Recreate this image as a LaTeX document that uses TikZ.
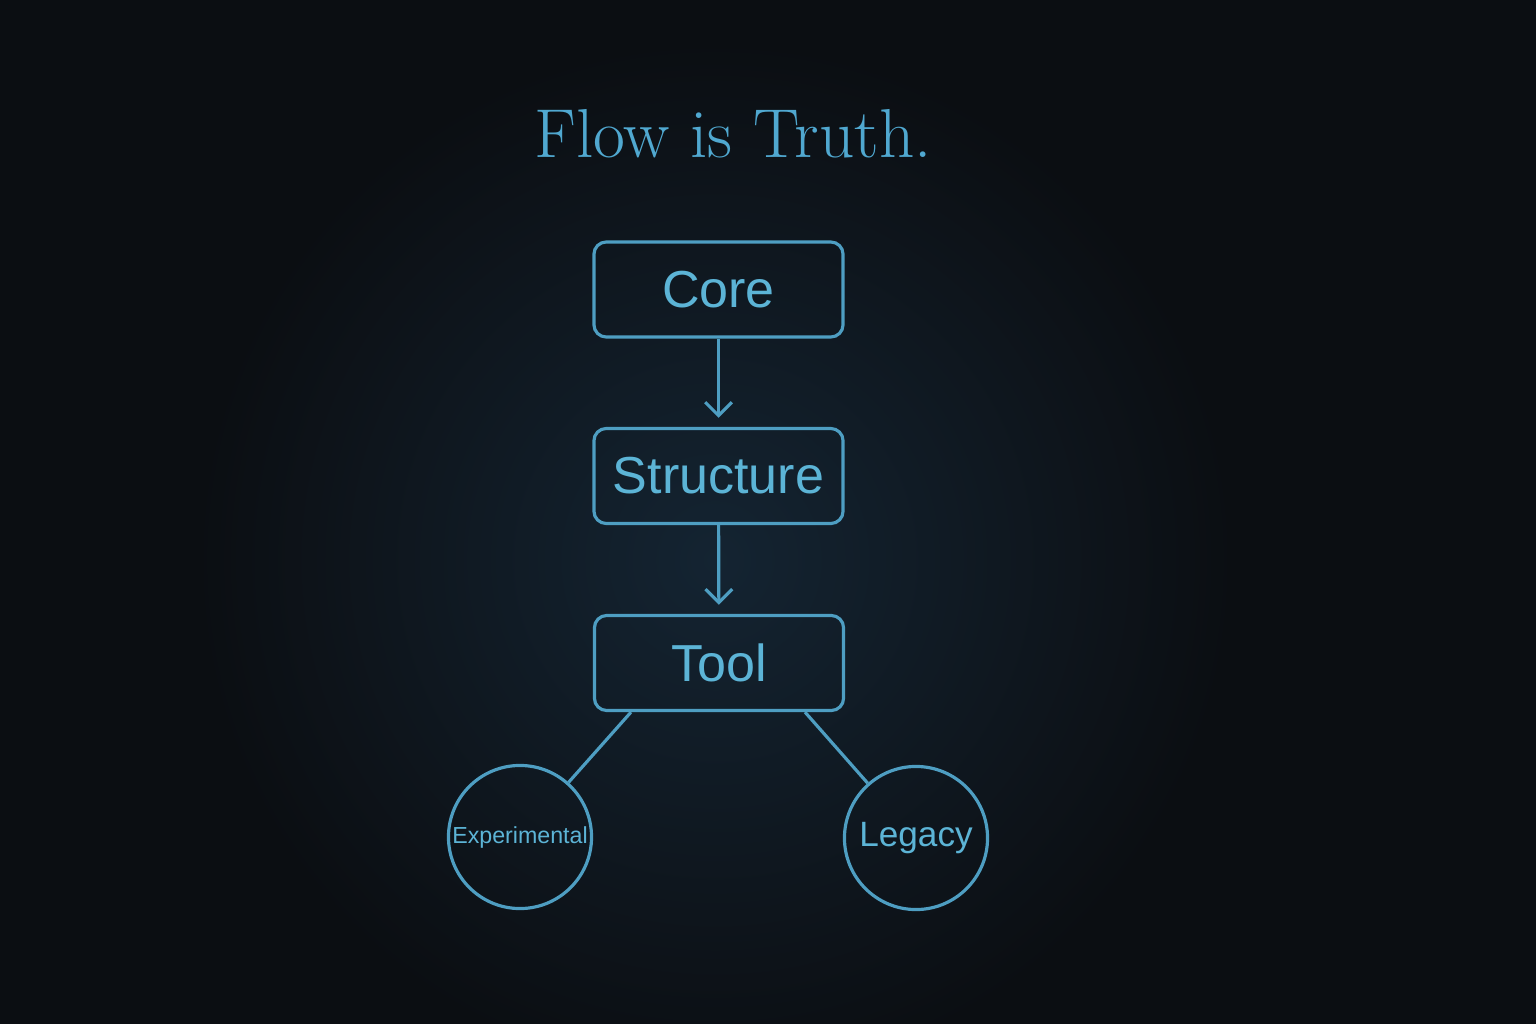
\documentclass[tikz,border=0pt]{standalone}
\usepackage{fontspec}
\setsansfont{Liberation Sans}
\usetikzlibrary{arrows.meta,calc}
\definecolor{bgcol}{RGB}{11,14,18}
\definecolor{glowcol}{RGB}{20,36,50}
\definecolor{linecol}{RGB}{78,158,194}
\definecolor{textcol}{RGB}{92,180,214}
\definecolor{titlecol}{RGB}{80,168,208}
\tikzset{
  boxnode/.style={draw=linecol, line width=0.9pt, rounded corners=3.5pt,
    minimum width=2.49cm, minimum height=0.95cm, inner sep=0pt,
    text=textcol, font=\sffamily\fontsize{14.8}{16}\selectfont},
  circnode/.style={draw=linecol, line width=0.9pt, circle, minimum size=1.43cm,
    inner sep=0pt, text=textcol},
  flowarrow/.style={draw=linecol, line width=0.9pt,
    -{Straight Barb[length=3.8pt,width=7.6pt,line width=0.9pt]}, shorten >=2.6pt},
  branch/.style={draw=linecol, line width=0.9pt}
}
\begin{document}
\begin{tikzpicture}[x=0.01cm,y=-0.01cm]
\useasboundingbox (0,0) rectangle (1536,1024);
\clip (0,0) rectangle (1536,1024);
\fill[bgcol] (0,0) rectangle (1536,1024);
\shade[inner color=glowcol, outer color=bgcol] (715,560) circle (520);
\node[anchor=base, text=titlecol, font=\fontsize{19.7}{22}\selectfont] (title) at (733,157) {Flow is Truth.};
\node[boxnode] (core) at (718.5,289.5) {Core};
\node[boxnode] (struct) at (718.5,476) {Structure};
\node[boxnode] (tool) at (719,663) {Tool};
\node[circnode, font=\sffamily\fontsize{6.6}{8}\selectfont] (exp) at (520,837) {Experimental};
\node[circnode, font=\sffamily\fontsize{10}{12}\selectfont] (leg) at (916,838) {Legacy};
\draw[flowarrow] (core) -- (struct);
\draw[flowarrow] (struct) -- (tool);
\coordinate (tl) at ($(tool.south)+(-88,0)$);
\coordinate (tr) at ($(tool.south)+(86,0)$);
\draw[branch] (tl) -- (exp);
\draw[branch] (tr) -- (leg);
\end{tikzpicture}
\end{document}
